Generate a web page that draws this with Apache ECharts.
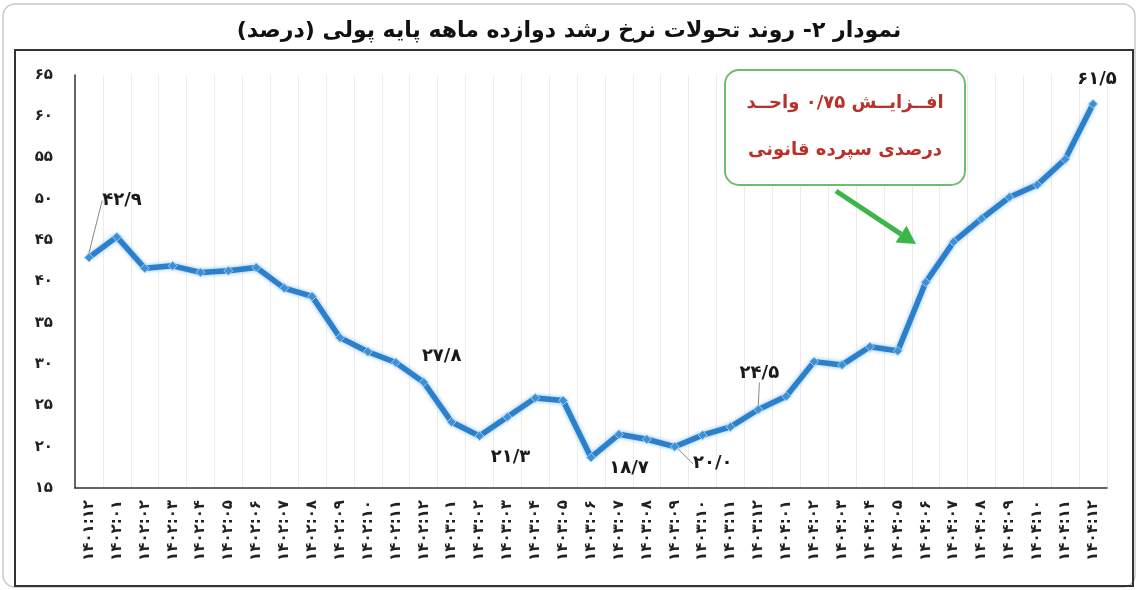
<!DOCTYPE html>
<html>
<head>
<meta charset="utf-8">
<script src="https://cdn.jsdelivr.net/npm/echarts@6/dist/echarts.min.js"></script>
<style>
html,body{margin:0;padding:0;background:#fff;}
#c{width:1138px;height:590px;}
</style>
</head>
<body>
<div id="c"></div>
<script>
// ---- data ----
const categories = [
  '۱۴۰۱:۱۲',
  '۱۴۰۲:۰۱','۱۴۰۲:۰۲','۱۴۰۲:۰۳','۱۴۰۲:۰۴','۱۴۰۲:۰۵','۱۴۰۲:۰۶','۱۴۰۲:۰۷','۱۴۰۲:۰۸','۱۴۰۲:۰۹','۱۴۰۲:۱۰','۱۴۰۲:۱۱','۱۴۰۲:۱۲',
  '۱۴۰۳:۰۱','۱۴۰۳:۰۲','۱۴۰۳:۰۳','۱۴۰۳:۰۴','۱۴۰۳:۰۵','۱۴۰۳:۰۶','۱۴۰۳:۰۷','۱۴۰۳:۰۸','۱۴۰۳:۰۹','۱۴۰۳:۱۰','۱۴۰۳:۱۱','۱۴۰۳:۱۲',
  '۱۴۰۴:۰۱','۱۴۰۴:۰۲','۱۴۰۴:۰۳','۱۴۰۴:۰۴','۱۴۰۴:۰۵','۱۴۰۴:۰۶','۱۴۰۴:۰۷','۱۴۰۴:۰۸','۱۴۰۴:۰۹','۱۴۰۴:۱۰','۱۴۰۴:۱۱','۱۴۰۴:۱۲'
];
const growthRate = [
  42.9,
  45.4, 41.6, 41.9, 41.1, 41.3, 41.7, 39.2, 38.2, 33.2, 31.5, 30.2, 27.8,
  23.0, 21.3, 23.6, 25.9, 25.6, 18.7, 21.5, 20.9, 20.0, 21.4, 22.4, 24.5,
  26.1, 30.3, 29.9, 32.1, 31.6, 39.9, 44.8, 47.6, 50.2, 51.7, 54.8, 61.5
];
const labeledIdx = [0, 12, 14, 18, 21, 24, 36];
const yMin = 15, yMax = 65, yStep = 5;
const titleText = 'نمودار ۲- روند تحولات نرخ رشد دوازده ماهه پایه پولی (درصد)';
const noteLines = ['افــزایــش ۰/۷۵ واحــد', 'درصدی سپرده قانونی'];

// ---- helpers ----
const FA = '۰۱۲۳۴۵۶۷۸۹';
function toFa(s){ return String(s).replace(/[0-9]/g, d => FA[+d]).replace('.', '/'); }
const RLM = '\u200F';
const FONT = 'DejaVu Sans';

// label placement (style, not data)
const labelPlace = {
  0:  {position:'top',    dx: 33, dy: -38, line:true},
  12: {position:'top',    dx: 18, dy: -7},
  14: {position:'bottom', dx: 31, dy: 2},
  18: {position:'bottom', dx: 38, dy: -8},
  21: {position:'bottom', dx: 38, dy: -2, line:true},
  24: {position:'top',    dx: 1,  dy: -17, line:true},
  36: {position:'top',    dx: 4,  dy: -6}
};

const seriesData = growthRate.map((v, i) => {
  const item = {value: v};
  if (labeledIdx.indexOf(i) >= 0) {
    const p = labelPlace[i];
    item.label = {show: true, position: p.position};
    item.labelLine = {show: !!p.line};
  }
  return item;
});

const chart = echarts.init(document.getElementById('c'));

// arrow geometry (annotation)
const ax1 = 836, ay1 = 191, ax2 = 916, ay2 = 244;
const ang = Math.atan2(ay2 - ay1, ax2 - ax1);
const hl = 18, hw = 10;
const bx = ax2 - hl * Math.cos(ang), by = ay2 - hl * Math.sin(ang);
const head = [
  [ax2, ay2],
  [bx + hw * Math.sin(ang), by - hw * Math.cos(ang)],
  [bx - hw * Math.sin(ang), by + hw * Math.cos(ang)]
];

chart.setOption({
  backgroundColor: '#fff',
  animation: false,
  title: {
    text: RLM + titleText + RLM,
    left: 'center',
    top: 15,
    textStyle: {fontFamily: FONT, fontSize: 22, fontWeight: 'bold', color: '#111'}
  },
  grid: {left: 75, right: 31, top: 75, bottom: 102},
  xAxis: {
    type: 'category',
    data: categories,
    boundaryGap: true,
    axisLine: {lineStyle: {color: '#333', width: 1.5}},
    axisTick: {show: false},
    splitLine: {show: true, lineStyle: {color: '#ececec', width: 1}},
    axisLabel: {
      rotate: 90, interval: 0, margin: 12,
      fontFamily: FONT, fontSize: 15, fontWeight: 'bold', color: '#222'
    }
  },
  yAxis: {
    type: 'value',
    min: yMin, max: yMax, interval: yStep,
    axisLine: {show: true, lineStyle: {color: '#333', width: 1.5}},
    axisTick: {show: false},
    splitLine: {show: false},
    axisLabel: {
      margin: 22, fontFamily: FONT, fontSize: 15, fontWeight: 'bold', color: '#222',
      formatter: v => toFa(v)
    }
  },
  series: [{
    type: 'line',
    data: seriesData,
    symbol: 'diamond',
    symbolSize: 9,
    lineStyle: {color: '#2a80cb', width: 5.5, shadowColor: 'rgba(90,160,225,0.7)', shadowBlur: 4},
    itemStyle: {color: '#3b90d6', borderColor: '#9fcbef', borderWidth: 1},
    label: {
      show: false,
      fontFamily: FONT, fontSize: 18, fontWeight: 'bold', color: '#1a1a1a',
      formatter: p => toFa(p.value.toFixed(1))
    },
    labelLine: {show: false, lineStyle: {color: '#888', width: 1}},
    labelLayout: function (params) {
      const p = labelPlace[params.dataIndex];
      if (!p) return {};
      return {dx: p.dx, dy: p.dy};
    },
    z: 3
  }],
  graphic: [
    {type: 'rect', shape: {x: 3, y: 4, width: 1132, height: 583, r: 12},
     style: {fill: 'none', stroke: '#c8c8c8', lineWidth: 1.5}, silent: true, z: -10},
    {type: 'rect', shape: {x: 15, y: 50, width: 1118, height: 536},
     style: {fill: 'none', stroke: '#333', lineWidth: 2}, silent: true, z: -9},
    {type: 'rect', shape: {x: 725, y: 70, width: 240, height: 115, r: 14},
     style: {fill: '#fff', stroke: '#70bd6e', lineWidth: 2}, z: 10},
    {type: 'text', x: 845, y: 103, z: 11,
     style: {text: RLM + noteLines[0] + RLM, font: 'bold 18px "DejaVu Sans"', fill: '#b8312a', textAlign: 'center', textVerticalAlign: 'middle'}},
    {type: 'text', x: 845, y: 150, z: 11,
     style: {text: RLM + noteLines[1] + RLM, font: 'bold 18px "DejaVu Sans"', fill: '#b8312a', textAlign: 'center', textVerticalAlign: 'middle'}},
    {type: 'line', z: 10, shape: {x1: ax1, y1: ay1, x2: bx, y2: by},
     style: {stroke: '#3cb64a', lineWidth: 5}},
    {type: 'polygon', z: 10, shape: {points: head}, style: {fill: '#3cb64a'}}
  ]
});
</script>
</body>
</html>
